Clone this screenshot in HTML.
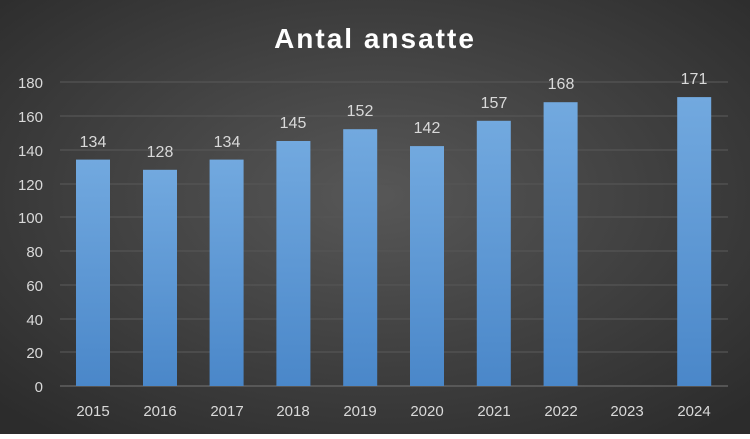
<!DOCTYPE html><html><head><style>body{margin:0}</style></head><body>
<svg width="750" height="434" xmlns="http://www.w3.org/2000/svg" font-family="'Liberation Sans',sans-serif">
<defs>
<radialGradient id="bg" cx="50%" cy="45%" r="70%"><stop offset="0" stop-color="#575757"/><stop offset="1" stop-color="#2c2c2c"/></radialGradient>
<linearGradient id="bar" x1="0" y1="0" x2="0" y2="1"><stop offset="0" stop-color="#72a9df"/><stop offset="1" stop-color="#4a87c9"/></linearGradient>
</defs>
<rect width="750" height="434" fill="url(#bg)"/>
<text x="375" y="48" text-anchor="middle" fill="#fff" font-size="28" font-weight="bold" letter-spacing="2">Antal ansatte</text>
<g stroke="#555" stroke-width="1.3">
<line x1="60" x2="728" y1="82" y2="82"/><line x1="60" x2="728" y1="116" y2="116"/><line x1="60" x2="728" y1="150" y2="150"/><line x1="60" x2="728" y1="184" y2="184"/><line x1="60" x2="728" y1="217" y2="217"/><line x1="60" x2="728" y1="251" y2="251"/><line x1="60" x2="728" y1="285" y2="285"/><line x1="60" x2="728" y1="319" y2="319"/><line x1="60" x2="728" y1="352" y2="352"/>
</g>
<line x1="60" x2="728" y1="386" y2="386" stroke="#6a6a6a" stroke-width="1.3"/>
<g fill="#d9d9d9" font-size="15" text-anchor="end">
<text x="43" y="88">180</text><text x="43" y="122">160</text><text x="43" y="156">140</text><text x="43" y="190">120</text><text x="43" y="223">100</text><text x="43" y="257">80</text><text x="43" y="291">60</text><text x="43" y="325">40</text><text x="43" y="358">20</text><text x="43" y="392">0</text>
</g>
<g fill="url(#bar)">
<rect x="76" y="159.6" width="34" height="226.4"/>
<rect x="143" y="169.8" width="34" height="216.2"/>
<rect x="209.6" y="159.6" width="34" height="226.4"/>
<rect x="276.4" y="141" width="34" height="245"/>
<rect x="343.2" y="129.2" width="34" height="256.8"/>
<rect x="410" y="146.1" width="34" height="239.9"/>
<rect x="476.8" y="120.8" width="34" height="265.2"/>
<rect x="543.6" y="102.2" width="34" height="283.8"/>
<rect x="677.2" y="97.1" width="34" height="288.9"/>
</g>
<g fill="#d9d9d9" font-size="16" text-anchor="middle">
<text x="93" y="147">134</text><text x="160" y="157">128</text><text x="227" y="147">134</text><text x="293" y="128">145</text><text x="360" y="116">152</text><text x="427" y="133">142</text><text x="494" y="108">157</text><text x="561" y="89">168</text><text x="694" y="84">171</text>
</g>
<g fill="#d9d9d9" font-size="15" text-anchor="middle">
<text x="93" y="416">2015</text><text x="160" y="416">2016</text><text x="227" y="416">2017</text><text x="293" y="416">2018</text><text x="360" y="416">2019</text><text x="427" y="416">2020</text><text x="494" y="416">2021</text><text x="561" y="416">2022</text><text x="627" y="416">2023</text><text x="694" y="416">2024</text>
</g>
</svg>
</body></html>
